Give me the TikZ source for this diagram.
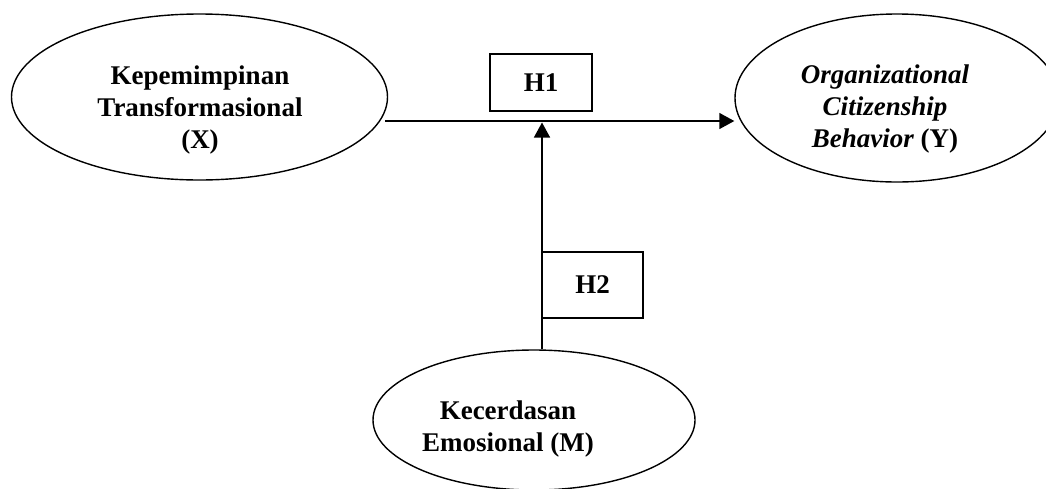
\documentclass[tikz,border=0pt]{standalone}
\usepackage{fontspec}
\setmainfont{Liberation Serif}
\usetikzlibrary{shapes.geometric,arrows.meta}
\begin{document}
\begin{tikzpicture}[x=1pt,y=-1pt,
  line width=1.4pt,
  oval/.style={draw,ellipse,inner sep=0pt},
  lbl/.style={align=center,font=\fontsize{27}{32}\selectfont\bfseries},
  hbox/.style={draw,rectangle,inner sep=0pt,font=\fontsize{27}{32}\selectfont\bfseries},
  arr/.style={-{Triangle[length=15pt,width=16pt]}}]
\useasboundingbox (0,0) rectangle (1046,488);
% ellipses
\node[oval,minimum width=376pt,minimum height=166pt] (X) at (199.5,97) {};
\node[oval,minimum width=324pt,minimum height=168pt] (Y) at (897,98) {};
\node[oval,minimum width=322pt,minimum height=140pt] (M) at (534,420) {};
% texts
\node[lbl] (Xt) at (200,110) {Kepemimpinan\\Transformasional\\(X)};
\node[lbl] (Yt) at (885,109) {\textit{Organizational}\\\textit{Citizenship}\\\textit{Behavior} (Y)};
\node[lbl] (Mt) at (508,429) {Kecerdasan\\Emosional (M)};
% hypothesis boxes
\node[hbox,minimum width=102pt,minimum height=57pt] (H1) at (541,82.5) {H1};
\node[hbox,minimum width=101pt,minimum height=66pt] (H2) at (592.5,285) {H2};
% connectors
\coordinate (S) at (385,121);
\coordinate (J) at (542,121);
\draw[arr] (S) -- (S -| Y.west);
\draw[arr,shorten >=1.5pt] (J |- M.north) -- (J);
\end{tikzpicture}
\end{document}
